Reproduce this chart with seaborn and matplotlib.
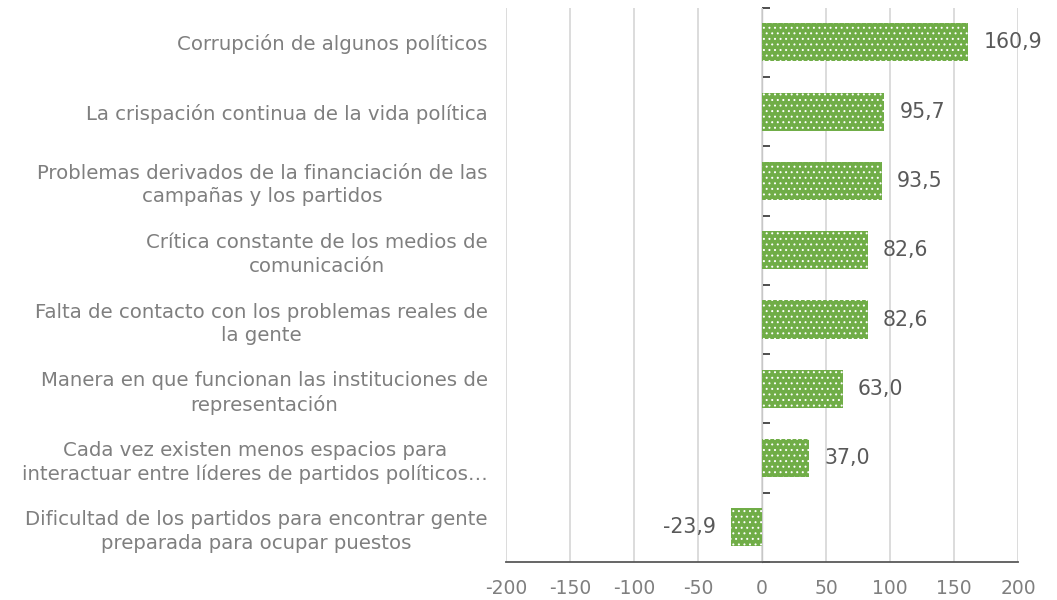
import matplotlib
matplotlib.use('Agg')
import seaborn as sns
import matplotlib.pyplot as plt

categories = [
    'Corrupción de algunos políticos',
    'La crispación continua de la vida política',
    'Problemas derivados de la financiación de las\ncampañas y los partidos',
    'Crítica constante de los medios de\ncomunicación',
    'Falta de contacto con los problemas reales de\nla gente',
    'Manera en que funcionan las instituciones de\nrepresentación',
    'Cada vez existen menos espacios para\ninteractuar entre líderes de partidos políticos…',
    'Dificultad de los partidos para encontrar gente\npreparada para ocupar puestos',
]
values = [160.9, 95.7, 93.5, 82.6, 82.6, 63.0, 37.0, -23.9]
xticks = [-200, -150, -100, -50, 0, 50, 100, 150, 200]

sns.set_style('white')
plt.rcParams['font.family'] = ['DejaVu Sans']
plt.rcParams['hatch.linewidth'] = 0.7

fig = plt.figure(figsize=(10.57, 6.0), dpi=100)
ax = fig.add_axes([0.4787, 0.0633, 0.4844, 0.9237])

sns.barplot(x=values, y=categories, orient='h', color='#70AD47',
            saturation=1, width=0.55, ax=ax)
for p in ax.patches:
    p.set_hatch('...')
    p.set_edgecolor('white')
    p.set_linewidth(0)

ax.set_xlim(-200, 200)
ax.set_ylim(len(categories) - 0.5, -0.5)
ax.set_xticks(xticks)
ax.set_xticklabels([str(t) for t in xticks])
ax.grid(axis='x', color='#d9d9d9', linewidth=1.3)
ax.set_axisbelow(True)

for s in ['top', 'right', 'left']:
    ax.spines[s].set_visible(False)
ax.spines['bottom'].set_color('#595959')
ax.spines['bottom'].set_linewidth(1.3)
ax.tick_params(axis='x', direction='out', length=6, width=1.3, color='#595959',
               labelsize=13.5, labelcolor='#7f7f7f', pad=6)
ax.tick_params(axis='y', length=0, labelsize=14.2, labelcolor='#7f7f7f', pad=13)
for lbl in ax.get_yticklabels():
    lbl.set_multialignment('center')
    lbl.set_linespacing(1.3)

# zero axis with category boundary ticks
zax = ax.secondary_yaxis(0.5)
zax.set_yticks([i - 0.5 for i in range(len(categories) + 1)])
zax.set_yticklabels([])
zax.spines['left'].set_color('#404040')
zax.spines['left'].set_linewidth(1.3)
zax.tick_params(axis='y', direction='out', length=6, width=1.3, color='#404040')

labels = [f'{v:.1f}'.replace('.', ',') for v in values]
ax.bar_label(ax.containers[0], labels=labels, padding=11, fontsize=14.8, color='#595959')

fig.savefig('out.png', dpi=100)
